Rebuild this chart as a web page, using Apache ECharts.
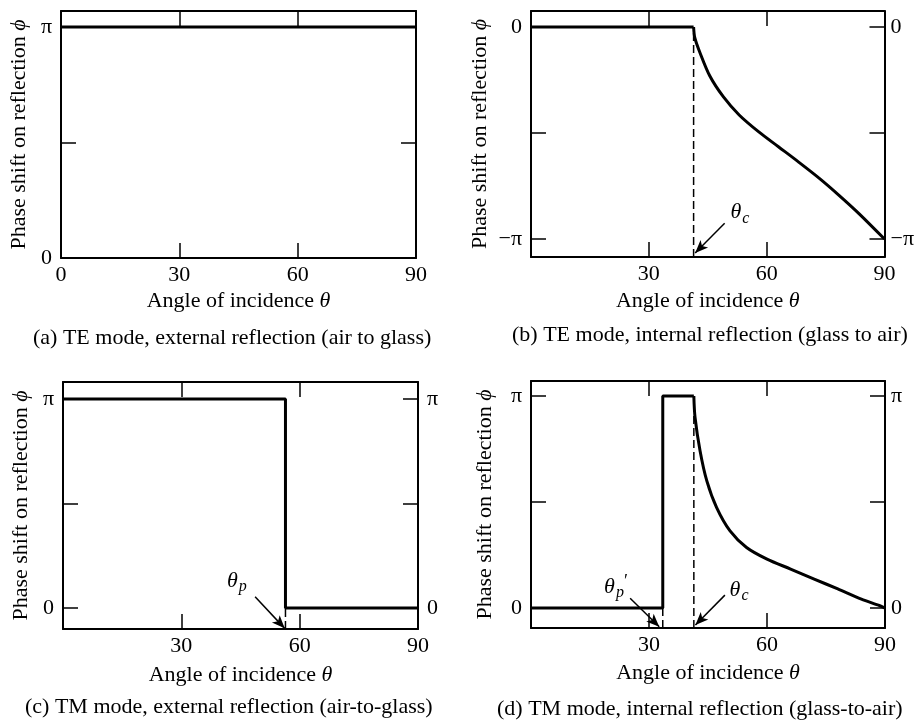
<!DOCTYPE html>
<html lang="en">
<head>
    <meta charset="UTF-8">
    <script type="text/javascript" src="https://cdn.jsdelivr.net/npm/echarts@6/dist/echarts.min.js"></script>
    <title>Phase shift on reflection</title>
    <style>
        body { margin: 0; background: #fff; }
    </style>
</head>
<body>

<div id="main" style="width: 917px; height: 723px"></div>

<script>
    // all phase values are in units of pi
    var xTicks = [30, 60];
    var xLabelsA = [0, 30, 60, 90];
    var xLabelsOther = [30, 60, 90];

    var thetaC = 41.4;      // critical angle
    var thetaP = 56.4;      // Brewster angle, external
    var thetaP2 = 33.5;     // Brewster angle, internal

    // (a) TE external
    var teExternal = [[0, 1], [90, 1]];
    // (b) TE internal
    var teInternalFlat = [[0, 0], [41.4, 0]];
    var teInternalCurve = [[41.4, 0], [41.7, -0.05], [43, -0.12], [45.5, -0.23], [49, -0.33], [53, -0.415],
        [58, -0.495], [63, -0.565], [68, -0.635], [73.5, -0.715], [78.5, -0.795], [83.5, -0.88], [90, -1]];
    // (c) TM external
    var tmExternal = [[0, 1], [56.4, 1], [56.4, 0], [90, 0]];
    // (d) TM internal
    var tmInternalStep = [[0, 0], [33.5, 0], [33.5, 1], [41.4, 1]];
    var tmInternalCurve = [[41.4, 1], [41.7, 0.9], [43, 0.74], [44.7, 0.6], [47.2, 0.474], [50.6, 0.364],
        [54.8, 0.286], [60, 0.231], [66, 0.184], [72, 0.137], [78, 0.09], [84, 0.042], [88.7, 0.011], [90, 0]];

    var font = 'Liberation Serif';

    var panels = [
        {grid: {left: 61, top: 11, width: 355, height: 247}, ymin: 0, ymax: 1.069,
            yTicks: [0, 0.5, 1], yLabels: [0, 1], xLabels: xLabelsA, rightLabels: false,
            nameGapY: 31, nameGapX: 32, rightMargin: 6,
            caption: '(a) TE mode, external reflection (air to glass)', capLeft: 33, capTop: 327},
        {grid: {left: 531, top: 11, width: 354, height: 246}, ymin: -1.085, ymax: 0.0755,
            yTicks: [-1, -0.5, 0], yLabels: [-1, 0], xLabels: xLabelsOther, rightLabels: true,
            nameGapY: 40, nameGapX: 33, rightMargin: 6,
            caption: '(b) TE mode, internal reflection (glass to air)', capLeft: 512, capTop: 324},
        {grid: {left: 63, top: 382, width: 355, height: 247}, ymin: -0.1, ymax: 1.081,
            yTicks: [0, 0.5, 1], yLabels: [0, 1], xLabels: xLabelsOther, rightLabels: true,
            nameGapY: 31, nameGapX: 35, rightMargin: 9,
            caption: '(c) TM mode, external reflection (air-to-glass)', capLeft: 25, capTop: 696},
        {grid: {left: 531, top: 381, width: 354, height: 247}, ymin: -0.094, ymax: 1.071,
            yTicks: [0, 0.5, 1], yLabels: [0, 1], xLabels: xLabelsOther, rightLabels: true,
            nameGapY: 35, nameGapX: 34, rightMargin: 6,
            caption: '(d) TM mode, internal reflection (glass-to-air)', capLeft: 497, capTop: 698}
    ];

    function piLabel(v) {
        if (Math.abs(v - 1) < 1e-6) return 'π';
        if (Math.abs(v + 1) < 1e-6) return '−π';
        return '0';
    }

    var lineBox = {show: true, onZero: false, lineStyle: {color: '#000', width: 2}};
    var tickStyle = {color: '#000', width: 1.5};
    var nameStyle = {fontFamily: font, fontSize: 22, color: '#000',
        rich: {i: {fontFamily: font, fontSize: 22, fontStyle: 'italic', color: '#000'}}};

    var grids = [], xAxes = [], yAxes = [], titles = [];

    panels.forEach(function (p, i) {
        grids.push(p.grid);
        titles.push({text: p.caption, left: p.capLeft, top: p.capTop, padding: 0,
            textStyle: {fontFamily: font, fontSize: 22, fontWeight: 'normal', color: '#000'}});
    });
    // bottom x axes, then top x axes
    panels.forEach(function (p, i) {
        xAxes.push({type: 'value', gridIndex: i, min: 0, max: 90, position: 'bottom',
            axisLine: lineBox,
            axisTick: {inside: true, length: 15, customValues: xTicks, lineStyle: tickStyle},
            axisLabel: {customValues: p.xLabels, margin: 6, fontFamily: font, fontSize: 22, color: '#000'},
            splitLine: {show: false},
            name: 'Angle of incidence {i|θ}', nameLocation: 'middle', nameGap: p.nameGapX,
            nameTextStyle: nameStyle});
    });
    panels.forEach(function (p, i) {
        xAxes.push({type: 'value', gridIndex: i, min: 0, max: 90, position: 'top',
            axisLine: lineBox,
            axisTick: {inside: true, length: 15, customValues: xTicks, lineStyle: tickStyle},
            axisLabel: {show: false}, splitLine: {show: false}});
    });
    // left y axes, then right y axes
    panels.forEach(function (p, i) {
        yAxes.push({type: 'value', gridIndex: i, min: p.ymin, max: p.ymax, position: 'left',
            axisLine: lineBox,
            axisTick: {inside: true, length: 15, customValues: p.yTicks, lineStyle: tickStyle},
            axisLabel: {customValues: p.yLabels, formatter: piLabel, margin: 9,
                fontFamily: font, fontSize: 22, color: '#000'},
            splitLine: {show: false},
            name: 'Phase shift on reflection {i|ϕ}', nameLocation: 'middle', nameGap: p.nameGapY,
            nameTextStyle: nameStyle});
    });
    panels.forEach(function (p, i) {
        yAxes.push({type: 'value', gridIndex: i, min: p.ymin, max: p.ymax, position: 'right',
            axisLine: lineBox,
            axisTick: {inside: true, length: 15, customValues: p.yTicks, lineStyle: tickStyle},
            axisLabel: {show: p.rightLabels, customValues: p.yLabels, formatter: piLabel,
                margin: p.rightMargin, fontFamily: font, fontSize: 22, color: '#000'},
            splitLine: {show: false}});
    });

    var solid = {color: '#000', width: 3};
    var dashed = {color: '#000', width: 1.5, type: [8, 4]};

    function curve(idx, data, smooth) {
        return {type: 'line', xAxisIndex: idx, yAxisIndex: idx, data: data, showSymbol: false,
            smooth: smooth || false, lineStyle: solid, silent: true, z: 3};
    }
    function dash(idx, x, y0, y1) {
        return {type: 'line', xAxisIndex: idx, yAxisIndex: idx, data: [[x, y0], [x, y1]],
            showSymbol: false, lineStyle: dashed, silent: true, z: 2};
    }
    // annotation: a theta label with its arrow
    var labelRich = {
        t: {fontFamily: font, fontSize: 22, fontStyle: 'italic', color: '#000'},
        s: {fontFamily: font, fontSize: 16, fontStyle: 'italic', color: '#000', padding: [12, 0, 0, 1]},
        q: {fontFamily: font, fontSize: 18, color: '#000', padding: [0, 0, 10, 0]}
    };
    function note(idx, text, at, from, to) {
        return {type: 'scatter', xAxisIndex: idx, yAxisIndex: idx, data: [at], symbolSize: 1,
            itemStyle: {color: 'rgba(255,255,255,0)', opacity: 1}, silent: true,
            label: {show: true, position: 'inside', formatter: text, color: '#000', opacity: 1, rich: labelRich},
            markLine: {silent: true, symbol: ['none', 'arrow'], symbolSize: [8, 13],
                lineStyle: {color: '#000', width: 1.5, type: 'solid', opacity: 1}, label: {show: false},
                data: [[{coord: from}, {coord: to}]]}};
    }

    var series = [
        curve(0, teExternal),

        curve(1, teInternalFlat),
        curve(1, teInternalCurve, 0.3),
        dash(1, thetaC, -1.085, 0),
        note(1, '{t|θ}{s|c}', [53.2, -0.875], [49.3, -0.926], [41.8, -1.066]),

        curve(2, tmExternal),
        dash(2, thetaP, -0.1, 0),
        note(2, '{t|θ}{s|p}', [44.1, 0.13], [48.7, 0.054], [56.2, -0.097]),

        curve(3, tmInternalStep),
        curve(3, tmInternalCurve, 0.3),
        dash(3, thetaP2, -0.094, 0),
        dash(3, thetaC, -0.094, 1),
        note(3, '{t|θ}{s|p}{q|′}', [21.6, 0.1], [25.2, 0.046], [32.6, -0.088]),
        note(3, '{t|θ}{s|c}', [52.9, 0.085], [49.3, 0.061], [41.8, -0.08])
    ];

    var chart = echarts.init(document.getElementById('main'));
    chart.setOption({
        animation: false,
        backgroundColor: '#fff',
        title: titles,
        grid: grids,
        xAxis: xAxes,
        yAxis: yAxes,
        series: series
    });
</script>

</body>
</html>
